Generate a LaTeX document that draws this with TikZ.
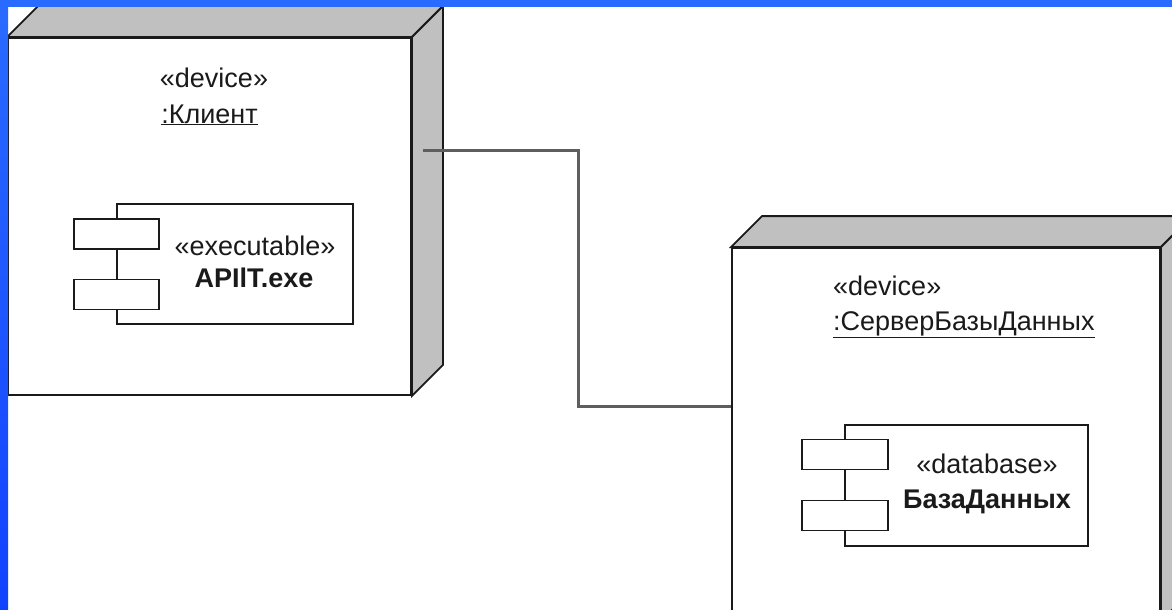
\documentclass[tikz,border=0pt]{standalone}
\usepackage{fontspec}
\setmainfont{Liberation Sans}
\definecolor{bluetop}{HTML}{2A6BFF}
\definecolor{blueleft}{HTML}{1242FF}
\definecolor{sidegray}{HTML}{C0C0C0}
\definecolor{conngray}{HTML}{5E5E5E}
\definecolor{ink}{HTML}{1A1A1A}
\tikzset{
  devface/.style={draw=ink, line width=1.8pt, fill=white, inner sep=0pt},
  sideface/.style={draw=ink, line width=1.8pt, fill=sidegray, line join=miter},
  compbox/.style={draw=ink, line width=1.6pt, fill=white, inner sep=0pt},
  tabbox/.style={draw=ink, line width=1.6pt, fill=white, inner sep=0pt, minimum height=30pt},
  lbl/.style={font=\fontsize{27}{33}\selectfont, text=ink, inner sep=0pt, anchor=base},
  lblb/.style={font=\fontsize{27}{33}\selectfont\bfseries, text=ink, inner sep=0pt, anchor=base},
  conn/.style={draw=conngray, line width=3pt}
}
\begin{document}
\begin{tikzpicture}[x=1pt,y=-1pt]
\useasboundingbox (0,0) rectangle (1172,610);
\fill[white] (0,0) rectangle (1172,610);

% ---- client device ----
\node[devface, minimum width=403pt, minimum height=357pt] (client) at (209.5,216.5) {};
\path[sideface] (client.north west) -- ++(31,-31) -- ([shift={(31,-31)}]client.north east) -- (client.north east) -- cycle;
\path[sideface] (client.north east) -- ++(31,-31) -- ([shift={(31,-31)}]client.south east) -- (client.south east) -- cycle;
\node[lbl] (clst) at (214,87) {«device»};
\node[lbl] (clname) at (209.5,123) {\underline{:Клиент}};

\node[compbox, minimum width=236pt, minimum height=120pt] (exe) at (235,264) {};
\node[tabbox, minimum width=85pt] (exet1) at (116.5,234) {};
\node[tabbox, minimum width=85pt] (exet2) at (116.5,294.5) {};
\node[lbl] (exest) at (255,255) {«executable»};
\node[lblb] (exename) at (254,287) {APIlT.exe};

% ---- server device ----
\node[devface, minimum width=428pt, minimum height=372pt] (server) at (946,434) {};
\path[sideface] (server.north west) -- ++(31,-31) -- ([shift={(31,-31)}]server.north east) -- (server.north east) -- cycle;
\path[sideface] (server.north east) -- ++(31,-31) -- ([shift={(31,-31)}]server.south east) -- (server.south east) -- cycle;
\node[lbl, anchor=base west] (svst) at (833,295) {«device»};
\node[lbl, anchor=base west] (svname) at (833,330) {\underline{:СерверБазыДанных}};

\node[compbox, minimum width=243pt, minimum height=121pt] (db) at (966.5,485.5) {};
\node[tabbox, minimum width=86pt] (dbt1) at (845,454.5) {};
\node[tabbox, minimum width=86pt] (dbt2) at (845,515.5) {};
\node[lbl] (dbst) at (987,473) {«database»};
\node[lblb] (dbname) at (987,508) {БазаДанных};

% ---- connector ----
\coordinate (cstart) at (423,150);
\coordinate (b1) at (578,150);
\coordinate (b2) at (578,406);
\coordinate (send) at (server.west |- b2);
\draw[conn] (cstart) -- (b1) -- (b2) -- (send);

% ---- blue frame ----
\fill[bluetop] (0,0) rectangle (1172,7);
\shade[top color=bluetop, bottom color=blueleft] (0,0) rectangle (8,610);
\end{tikzpicture}
\end{document}
